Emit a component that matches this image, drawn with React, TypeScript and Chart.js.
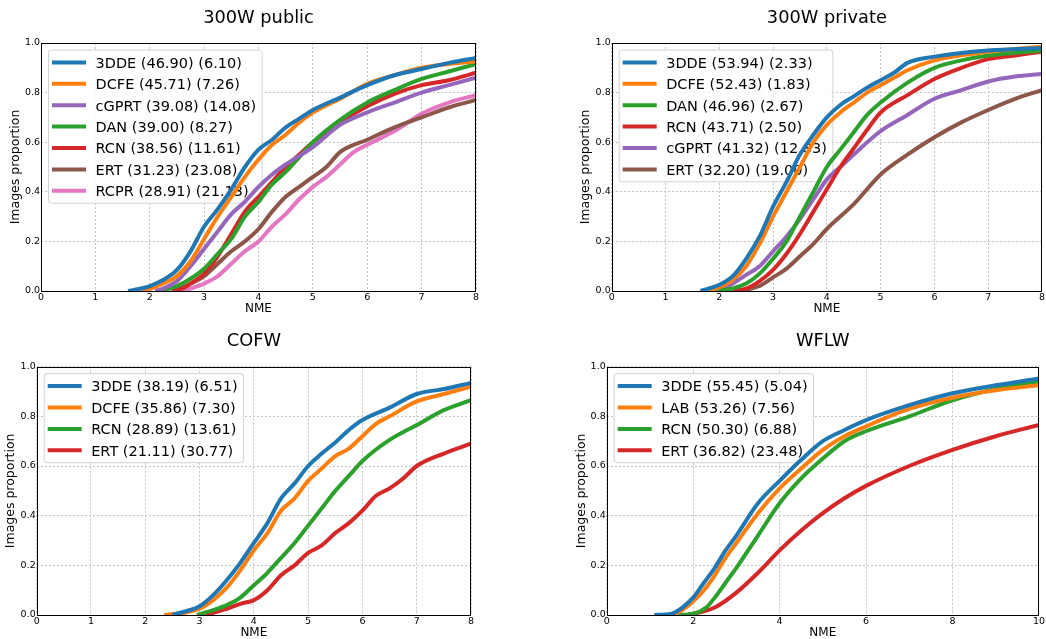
import React, { useEffect, useRef } from "react";
import { Chart, registerables } from "chart.js";

Chart.register(...registerables);

type Pt = [number, number];

// ---------- 300W public ----------
const pub3DDE: Pt[] = [[1.6,0],[1.8,0.008],[2,0.02],[2.25,0.045],[2.5,0.085],[2.75,0.16],[3,0.26],[3.25,0.33],[3.5,0.41],[3.75,0.5],[4,0.57],[4.25,0.61],[4.5,0.66],[4.75,0.695],[5,0.73],[5.5,0.78],[6,0.83],[6.5,0.87],[7,0.895],[7.5,0.92],[8,0.94]];
const pubDCFE: Pt[] = [[1.85,0],[2,0.008],[2.25,0.03],[2.5,0.06],[2.75,0.12],[3,0.21],[3.25,0.3],[3.5,0.38],[3.75,0.46],[4,0.53],[4.25,0.59],[4.5,0.63],[4.75,0.68],[5,0.72],[5.5,0.775],[6,0.835],[6.5,0.87],[7,0.9],[7.5,0.915],[8,0.925]];
const pubCGPRT: Pt[] = [[2.1,0],[2.25,0.01],[2.5,0.04],[2.75,0.1],[3,0.17],[3.25,0.24],[3.5,0.31],[3.75,0.36],[4,0.42],[4.25,0.47],[4.5,0.51],[5,0.58],[5.5,0.67],[6,0.72],[6.5,0.76],[7,0.8],[7.5,0.83],[8,0.86]];
const pubDAN: Pt[] = [[2.2,0],[2.5,0.02],[2.75,0.05],[3,0.09],[3.25,0.15],[3.5,0.21],[3.75,0.3],[4,0.36],[4.25,0.43],[4.5,0.48],[4.75,0.54],[5,0.6],[5.5,0.69],[6,0.76],[6.5,0.81],[7,0.855],[7.5,0.885],[8,0.915]];
const pubRCN: Pt[] = [[2.4,0],[2.6,0.01],[2.75,0.03],[3,0.07],[3.25,0.14],[3.5,0.23],[3.75,0.32],[4,0.38],[4.25,0.44],[4.5,0.5],[4.75,0.55],[5,0.6],[5.5,0.68],[6,0.745],[6.5,0.795],[7,0.83],[7.5,0.85],[8,0.88]];
const pubERT: Pt[] = [[2.45,0],[2.75,0.03],[3,0.06],[3.25,0.11],[3.5,0.16],[3.75,0.2],[4,0.25],[4.25,0.32],[4.5,0.38],[4.75,0.42],[5,0.46],[5.25,0.5],[5.5,0.56],[6,0.61],[6.5,0.66],[7,0.7],[7.5,0.74],[8,0.77]];
const pubRCPR: Pt[] = [[2.6,0],[2.75,0.01],[3,0.03],[3.25,0.06],[3.5,0.11],[3.75,0.16],[4,0.2],[4.25,0.26],[4.5,0.31],[4.75,0.37],[5,0.42],[5.25,0.46],[5.5,0.51],[5.75,0.56],[6,0.59],[6.5,0.645],[7,0.715],[7.5,0.76],[8,0.79]];
const pubLabels = ["3DDE (46.90) (6.10)", "DCFE (45.71) (7.26)", "cGPRT (39.08) (14.08)", "DAN (39.00) (8.27)", "RCN (38.56) (11.61)", "ERT (31.23) (23.08)", "RCPR (28.91) (21.13)"];

// ---------- 300W private ----------
const priv3DDE: Pt[] = [[1.65,0],[2,0.025],[2.25,0.06],[2.5,0.13],[2.75,0.22],[3,0.34],[3.25,0.44],[3.5,0.55],[3.75,0.63],[4,0.7],[4.25,0.75],[4.5,0.785],[4.75,0.82],[5,0.85],[5.25,0.88],[5.5,0.92],[6,0.945],[6.5,0.96],[7,0.97],[8,0.98]];
const privDCFE: Pt[] = [[1.8,0],[2,0.015],[2.25,0.045],[2.5,0.1],[2.75,0.19],[3,0.3],[3.25,0.4],[3.5,0.5],[3.75,0.6],[4,0.67],[4.25,0.72],[4.5,0.76],[4.75,0.8],[5,0.83],[5.25,0.86],[5.5,0.89],[6,0.93],[6.5,0.95],[7,0.965],[8,0.985]];
const privDAN: Pt[] = [[1.9,0],[2.25,0.01],[2.5,0.03],[2.75,0.07],[3,0.13],[3.25,0.2],[3.5,0.3],[3.75,0.4],[4,0.5],[4.25,0.57],[4.5,0.64],[4.75,0.71],[5,0.76],[5.5,0.84],[6,0.9],[6.5,0.93],[7,0.95],[8,0.97]];
const privRCN: Pt[] = [[2.25,0],[2.5,0.01],[2.75,0.04],[3,0.085],[3.25,0.15],[3.5,0.23],[3.75,0.32],[4,0.41],[4.25,0.5],[4.5,0.575],[4.75,0.65],[5,0.72],[5.5,0.79],[6,0.855],[6.5,0.9],[7,0.935],[7.5,0.95],[8,0.965]];
const privCGPRT: Pt[] = [[2.0,0],[2.25,0.03],[2.5,0.065],[2.75,0.1],[3,0.16],[3.25,0.22],[3.5,0.29],[3.75,0.37],[4,0.45],[4.25,0.5],[4.5,0.55],[4.75,0.6],[5,0.645],[5.5,0.71],[6,0.775],[6.5,0.81],[7,0.845],[7.5,0.865],[8,0.875]];
const privERT: Pt[] = [[2.4,0],[2.75,0.02],[3,0.055],[3.25,0.09],[3.5,0.14],[3.75,0.19],[4,0.25],[4.5,0.35],[5,0.47],[5.5,0.55],[6,0.62],[6.5,0.68],[7,0.73],[7.5,0.775],[8,0.81]];
const privLabels = ["3DDE (53.94) (2.33)", "DCFE (52.43) (1.83)", "DAN (46.96) (2.67)", "RCN (43.71) (2.50)", "cGPRT (41.32) (12.83)", "ERT (32.20) (19.00)"];

// ---------- COFW ----------
const cofw3DDE: Pt[] = [[2.5,0],[2.75,0.015],[3,0.035],[3.25,0.08],[3.5,0.14],[3.75,0.21],[4,0.29],[4.25,0.37],[4.5,0.47],[4.75,0.53],[5,0.6],[5.25,0.65],[5.5,0.695],[5.75,0.745],[6,0.785],[6.5,0.835],[7,0.89],[7.5,0.91],[8,0.935]];
const cofwDCFE: Pt[] = [[2.35,0],[2.75,0.01],[3,0.025],[3.25,0.06],[3.5,0.11],[3.75,0.18],[4,0.26],[4.25,0.33],[4.5,0.42],[4.75,0.47],[5,0.54],[5.25,0.59],[5.5,0.64],[5.75,0.67],[6,0.72],[6.25,0.77],[6.5,0.8],[7,0.86],[7.5,0.89],[8,0.92]];
const cofwRCN: Pt[] = [[2.95,0],[3.25,0.02],[3.5,0.04],[3.75,0.07],[4,0.12],[4.25,0.17],[4.5,0.23],[4.75,0.29],[5,0.36],[5.25,0.43],[5.5,0.5],[5.75,0.56],[6,0.62],[6.5,0.705],[7,0.765],[7.5,0.825],[8,0.865]];
const cofwERT: Pt[] = [[3.1,0],[3.5,0.025],[3.75,0.045],[4,0.06],[4.25,0.1],[4.5,0.16],[4.75,0.2],[5,0.25],[5.25,0.28],[5.5,0.33],[5.75,0.37],[6,0.42],[6.25,0.48],[6.5,0.51],[6.75,0.55],[7,0.6],[7.5,0.65],[8,0.69]];
const cofwLabels = ["3DDE (38.19) (6.51)", "DCFE (35.86) (7.30)", "RCN (28.89) (13.61)", "ERT (21.11) (30.77)"];

// ---------- WFLW ----------
const wflw3DDE: Pt[] = [[1.1,0],[1.5,0.005],[1.75,0.03],[2,0.07],[2.25,0.13],[2.5,0.19],[2.75,0.26],[3,0.32],[3.5,0.45],[4,0.54],[4.5,0.625],[5,0.7],[5.5,0.745],[6,0.785],[7,0.845],[8,0.893],[9,0.925],[10,0.953]];
const wflwLAB: Pt[] = [[1.5,0],[1.75,0.02],[2,0.055],[2.25,0.1],[2.5,0.16],[2.75,0.23],[3,0.29],[3.5,0.41],[4,0.51],[4.5,0.59],[5,0.665],[5.5,0.72],[6,0.76],[7,0.83],[8,0.875],[9,0.905],[10,0.925]];
const wflwRCN: Pt[] = [[1.6,0],[2,0.005],[2.3,0.03],[2.5,0.07],[2.75,0.13],[3,0.19],[3.5,0.32],[4,0.45],[4.5,0.55],[5,0.63],[5.5,0.7],[6,0.74],[7,0.8],[8,0.865],[9,0.91],[10,0.94]];
const wflwERT: Pt[] = [[1.9,0],[2.25,0.015],[2.5,0.03],[3,0.09],[3.5,0.17],[4,0.26],[4.5,0.34],[5,0.41],[5.5,0.47],[6,0.52],[7,0.6],[8,0.665],[9,0.72],[10,0.765]];
const wflwLabels = ["3DDE (55.45) (5.04)", "LAB (53.26) (7.56)", "RCN (50.30) (6.88)", "ERT (36.82) (23.48)"];

const yTicks = [0, 0.2, 0.4, 0.6, 0.8, 1.0];

const BLUE = "#1f77b4", ORANGE = "#ff7f0e", GREEN = "#2ca02c", RED = "#d62728", PURPLE = "#9467bd", BROWN = "#8c564b", PINK = "#e377c2";
const FONT = '"DejaVu Sans", "Liberation Sans", sans-serif';
const GRID = "#c4c4c4";

interface Series { label: string; color: string; data: Pt[] }
interface Panel {
  title: string;
  series: Series[];
  xMax: number;
  xStep: number;
  canvas: { left: number; top: number; w: number; h: number };
  area: { l: number; t: number; r: number; b: number };
  yTitleX: number;
  xTitleY: number;
}

const panels: Panel[] = [
  {
    title: "300W public",
    series: [
      { label: pubLabels[0], color: BLUE, data: pub3DDE },
      { label: pubLabels[1], color: ORANGE, data: pubDCFE },
      { label: pubLabels[2], color: PURPLE, data: pubCGPRT },
      { label: pubLabels[3], color: GREEN, data: pubDAN },
      { label: pubLabels[4], color: RED, data: pubRCN },
      { label: pubLabels[5], color: BROWN, data: pubERT },
      { label: pubLabels[6], color: PINK, data: pubRCPR },
    ],
    xMax: 8, xStep: 1,
    canvas: { left: 0, top: 0, w: 523, h: 320 },
    area: { l: 41, t: 43, r: 476, b: 291 },
    yTitleX: 15.7, xTitleY: 309,
  },
  {
    title: "300W private",
    series: [
      { label: privLabels[0], color: BLUE, data: priv3DDE },
      { label: privLabels[1], color: ORANGE, data: privDCFE },
      { label: privLabels[2], color: GREEN, data: privDAN },
      { label: privLabels[3], color: RED, data: privRCN },
      { label: privLabels[4], color: PURPLE, data: privCGPRT },
      { label: privLabels[5], color: BROWN, data: privERT },
    ],
    xMax: 8, xStep: 1,
    canvas: { left: 523, top: 0, w: 523, h: 320 },
    area: { l: 611.7, t: 43, r: 1045.5, b: 291 },
    yTitleX: 586, xTitleY: 309,
  },
  {
    title: "COFW",
    series: [
      { label: cofwLabels[0], color: BLUE, data: cofw3DDE },
      { label: cofwLabels[1], color: ORANGE, data: cofwDCFE },
      { label: cofwLabels[2], color: GREEN, data: cofwRCN },
      { label: cofwLabels[3], color: RED, data: cofwERT },
    ],
    xMax: 8, xStep: 1,
    canvas: { left: 0, top: 320, w: 523, h: 319 },
    area: { l: 36.7, t: 366.7, r: 471, b: 615 },
    yTitleX: 11, xTitleY: 632.5,
  },
  {
    title: "WFLW",
    series: [
      { label: wflwLabels[0], color: BLUE, data: wflw3DDE },
      { label: wflwLabels[1], color: ORANGE, data: wflwLAB },
      { label: wflwLabels[2], color: GREEN, data: wflwRCN },
      { label: wflwLabels[3], color: RED, data: wflwERT },
    ],
    xMax: 10, xStep: 2,
    canvas: { left: 523, top: 320, w: 523, h: 319 },
    area: { l: 606.7, t: 366.7, r: 1041, b: 615 },
    yTitleX: 581.7, xTitleY: 632.5,
  },
];

const decorPlugin = {
  id: "decor",
  beforeDatasetsDraw(chart: any, _args: any, opts: any) {
    const ctx = chart.ctx as CanvasRenderingContext2D;
    const ca = chart.chartArea;
    const labels: string[] = opts.labels;
    const colors: string[] = opts.colors;
    ctx.save();
    ctx.font = `14.5px ${FONT}`;
    let tw = 0;
    labels.forEach((l) => { tw = Math.max(tw, ctx.measureText(l).width); });
    const bx = ca.left + 7.5;
    const by = ca.top + 7;
    const rowH = 21.4;
    const bw = 47 + tw + 6;
    const bh = 24.8 + (labels.length - 1) * rowH;
    ctx.beginPath();
    (ctx as any).roundRect(bx, by, bw, bh, 3);
    ctx.fillStyle = "rgba(255,255,255,0.85)";
    ctx.fill();
    ctx.lineWidth = 1;
    ctx.strokeStyle = "rgba(204,204,204,0.9)";
    ctx.stroke();
    labels.forEach((l, i) => {
      const yc = by + 12.4 + i * rowH;
      ctx.beginPath();
      ctx.moveTo(bx + 3.5, yc);
      ctx.lineTo(bx + 37.5, yc);
      ctx.lineWidth = 4;
      ctx.strokeStyle = colors[i];
      ctx.stroke();
      ctx.fillStyle = "#000";
      ctx.textAlign = "left";
      ctx.textBaseline = "alphabetic";
      ctx.fillText(l, bx + 47, yc + 5.3);
    });
    ctx.restore();
  },
  afterDraw(chart: any, _args: any, opts: any) {
    const ctx = chart.ctx as CanvasRenderingContext2D;
    const ca = chart.chartArea;
    ctx.save();
    ctx.strokeStyle = "#000";
    ctx.lineWidth = 1;
    const l = Math.round(ca.left) + 0.5, t = Math.round(ca.top) + 0.5;
    const r = Math.round(ca.right) - 0.5, b = Math.round(ca.bottom) + 0.5;
    ctx.strokeRect(l, t, r - l, b - t);
    ctx.fillStyle = "#000";
    ctx.font = `17.8px ${FONT}`;
    ctx.textAlign = "center";
    ctx.textBaseline = "alphabetic";
    ctx.fillText(opts.title, (ca.left + ca.right) / 2, ca.top - 20.5);
    ctx.restore();
  },
};

function PanelChart({ p }: { p: Panel }) {
  const ref = useRef<HTMLCanvasElement | null>(null);
  useEffect(() => {
    if (!ref.current) return;
    const { canvas, area } = p;
    const aL = area.l - canvas.left;
    const aT = area.t - canvas.top;
    const aR = area.r - canvas.left;
    const aB = area.b - canvas.top;
    const yTitleFont = 12.5;
    const yLH = yTitleFont * 1.2;
    const xLH = 12 * 1.2;
    const padLeft = p.yTitleX - canvas.left - yLH / 2;
    const yAxisWidth = aL - padLeft;
    const xAxisHeight = canvas.h - aB;
    const xTitlePadBottom = canvas.h - (p.xTitleY - canvas.top) - xLH / 2;
    const xTicks: number[] = [];
    for (let v = 0; v <= p.xMax + 1e-9; v += p.xStep) xTicks.push(v);

    const chart = new Chart(ref.current, {
      type: "line",
      data: {
        datasets: p.series.map((s) => ({
          label: s.label,
          data: s.data.map(([x, y]) => ({ x, y })),
          borderColor: s.color,
          backgroundColor: s.color,
          borderWidth: 4,
          pointRadius: 0,
          pointHoverRadius: 0,
          fill: false,
          cubicInterpolationMode: "monotone" as const,
          borderJoinStyle: "round" as const,
          clip: 0,
        })),
      },
      options: {
        animation: false,
        responsive: false,
        maintainAspectRatio: false,
        events: [],
        layout: { padding: { left: padLeft, top: aT, right: canvas.w - aR, bottom: 0 } },
        plugins: {
          legend: { display: false },
          title: { display: false },
          tooltip: { enabled: false },
          decor: {
            title: p.title,
            labels: p.series.map((s) => s.label),
            colors: p.series.map((s) => s.color),
          },
        } as any,
        scales: {
          x: {
            type: "linear",
            min: 0,
            max: p.xMax,
            afterBuildTicks: (scale: any) => { scale.ticks = xTicks.map((v) => ({ value: v })); },
            afterFit: (scale: any) => { scale.height = xAxisHeight; },
            ticks: {
              autoSkip: false,
              maxRotation: 0,
              padding: 1,
              color: "#000",
              font: { family: FONT, size: 9.5 },
              callback: (v: any) => String(v),
            },
            grid: { color: GRID, lineWidth: 1, drawTicks: false },
            border: { display: false, dash: [2, 2] },
            title: {
              display: true,
              text: "NME",
              color: "#000",
              font: { family: FONT, size: 12 },
              padding: { top: 0, bottom: xTitlePadBottom },
            },
          },
          y: {
            type: "linear",
            min: 0,
            max: 1,
            afterBuildTicks: (scale: any) => { scale.ticks = yTicks.map((v) => ({ value: v })); },
            afterFit: (scale: any) => { scale.width = yAxisWidth; },
            ticks: {
              padding: 1,
              color: "#000",
              font: { family: FONT, size: 9.5 },
              callback: (v: any) => Number(v).toFixed(1),
            },
            grid: { color: GRID, lineWidth: 1, drawTicks: false },
            border: { display: false, dash: [2, 2] },
            title: {
              display: true,
              text: "Images proportion",
              color: "#000",
              font: { family: FONT, size: yTitleFont },
              padding: { top: 0, bottom: 0 },
            },
          },
        },
      } as any,
      plugins: [decorPlugin],
    });
    return () => chart.destroy();
  }, [p]);

  return (
    <canvas
      ref={ref}
      width={p.canvas.w}
      height={p.canvas.h}
      style={{ position: "absolute", left: p.canvas.left, top: p.canvas.top, width: p.canvas.w, height: p.canvas.h }}
    />
  );
}

export default function App() {
  return (
    <div style={{ position: "fixed", left: 0, top: 0, width: 1046, height: 639, overflow: "hidden", background: "#fff" }}>
      {panels.map((p, i) => (
        <PanelChart key={i} p={p} />
      ))}
    </div>
  );
}
